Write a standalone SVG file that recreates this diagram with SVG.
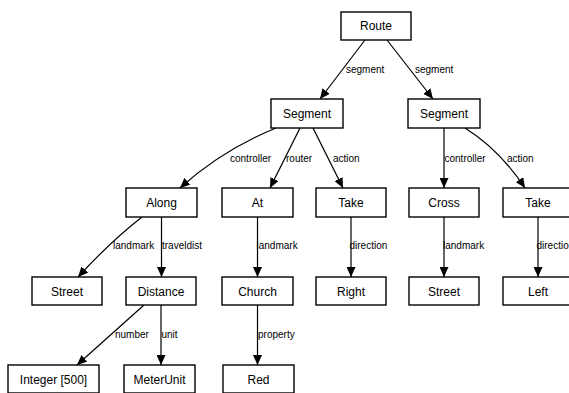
<svg xmlns="http://www.w3.org/2000/svg" width="569" height="393" viewBox="0 0 569 393">
<style>
.n rect{fill:#fff;stroke:#000;stroke-width:1.4}
.n text{font-family:"Liberation Sans",Arial,sans-serif;font-size:12px;fill:#000;text-anchor:middle}
.e path{fill:none;stroke:#000;stroke-width:1.2;marker-end:url(#ah)}
.l{font-family:"Liberation Sans",Arial,sans-serif;font-size:10px;fill:#000}
</style>
<defs>
<marker id="ah" markerUnits="userSpaceOnUse" markerWidth="10" markerHeight="9" refX="10" refY="4.5" orient="auto">
<path d="M0,0 L10,4.5 L0,9 z" fill="#000"/>
</marker>
</defs>
<rect width="569" height="393" fill="#fff"/>
<g id="labels">
<text class="l" x="346" y="73">segment</text>
<text class="l" x="415" y="73">segment</text>
<text class="l" x="230" y="161.5">controller</text>
<text class="l" x="286" y="161.5">router</text>
<text class="l" x="333" y="161.5">action</text>
<text class="l" x="444.5" y="161.5">controller</text>
<text class="l" x="507" y="161.5">action</text>
<text class="l" x="113" y="249">landmark</text>
<text class="l" x="162" y="249">traveldist</text>
<text class="l" x="256.5" y="249">landmark</text>
<text class="l" x="349.5" y="249">direction</text>
<text class="l" x="443" y="249">landmark</text>
<text class="l" x="536.5" y="249">direction</text>
<text class="l" x="115" y="338">number</text>
<text class="l" x="161.5" y="338">unit</text>
<text class="l" x="258" y="338">property</text>
</g>
<g id="edges" class="e">
<path d="M365,40 L320,99"/>
<path d="M387,40 L433,99"/>
<path d="M276,128 Q222,150 180,188"/>
<path d="M300,128 L270,188"/>
<path d="M313,128 L343,188"/>
<path d="M444,128 L444,188"/>
<path d="M465,128 Q500,150 525,188"/>
<path d="M142,217 Q110,242 78,277"/>
<path d="M161.5,217 L161.5,277"/>
<path d="M257.5,217 L257.5,277"/>
<path d="M351,217 L351,277"/>
<path d="M444,217 L444,277"/>
<path d="M538,217 L538,277"/>
<path d="M144,305 L77,365"/>
<path d="M161,305 L161,365"/>
<path d="M257.5,305 L257.5,365"/>
</g>
<g id="route" class="n"><rect x="341" y="12" width="70" height="28"/><text x="376" y="30">Route</text></g>
<g id="segment1" class="n"><rect x="271" y="99" width="72" height="29"/><text x="307" y="118">Segment</text></g>
<g id="segment2" class="n"><rect x="408" y="99" width="72" height="29"/><text x="444" y="118">Segment</text></g>
<g id="along" class="n"><rect x="126" y="188" width="71" height="29"/><text x="161.5" y="207">Along</text></g>
<g id="at" class="n"><rect x="222" y="188" width="71" height="29"/><text x="257.5" y="207">At</text></g>
<g id="take1" class="n"><rect x="316" y="188" width="70" height="29"/><text x="351" y="207">Take</text></g>
<g id="cross" class="n"><rect x="409" y="188" width="70" height="29"/><text x="444" y="207">Cross</text></g>
<g id="take2" class="n"><rect x="503" y="188" width="70" height="29"/><text x="538" y="207">Take</text></g>
<g id="street1" class="n"><rect x="32" y="277" width="70" height="28"/><text x="67" y="295.5">Street</text></g>
<g id="distance" class="n"><rect x="126" y="277" width="70" height="28"/><text x="161" y="295.5">Distance</text></g>
<g id="church" class="n"><rect x="222" y="277" width="71" height="28"/><text x="257.5" y="295.5">Church</text></g>
<g id="right" class="n"><rect x="316" y="277" width="70" height="28"/><text x="351" y="295.5">Right</text></g>
<g id="street2" class="n"><rect x="409" y="277" width="70" height="28"/><text x="444" y="295.5">Street</text></g>
<g id="left" class="n"><rect x="503" y="277" width="70" height="28"/><text x="538" y="295.5">Left</text></g>
<g id="integer" class="n"><rect x="8" y="365" width="91" height="28"/><text x="53.5" y="383.5">Integer [500]</text></g>
<g id="meterunit" class="n"><rect x="124" y="365" width="71" height="28"/><text x="159.5" y="383.5">MeterUnit</text></g>
<g id="red" class="n"><rect x="223" y="365" width="71" height="28"/><text x="258.5" y="383.5">Red</text></g>
</svg>
